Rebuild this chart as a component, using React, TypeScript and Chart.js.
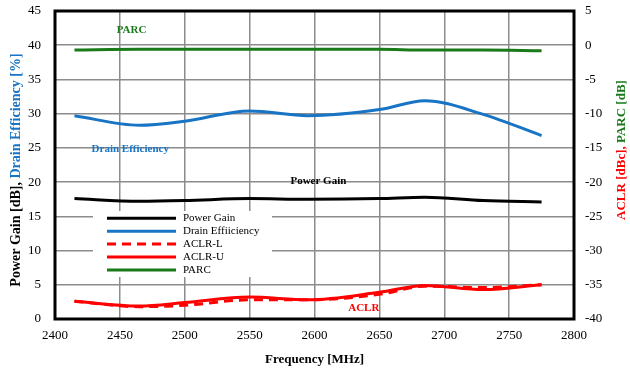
import React, { useEffect, useRef } from "react";
import { Chart, registerables } from "chart.js";

Chart.register(...registerables);

const freqs = [2415, 2465, 2500, 2550, 2595, 2650, 2685, 2730, 2775];
const powerGain = [17.6, 17.2, 17.3, 17.6, 17.5, 17.6, 17.8, 17.3, 17.1];
const drainEff = [29.7, 28.3, 28.9, 30.4, 29.7, 30.6, 31.9, 29.9, 26.8];
const aclrL = [-37.4, -38.2, -38.0, -37.2, -37.2, -36.4, -35.2, -35.4, -35.0];
const aclrU = [-37.4, -38.1, -37.6, -36.8, -37.2, -36.1, -35.1, -35.7, -35.0];
const parc = [-0.7, -0.6, -0.6, -0.6, -0.6, -0.6, -0.7, -0.7, -0.8];

const seriesNames = ["Power Gain", "Drain Effiiciency", "ACLR-L", "ACLR-U", "PARC"];
const seriesColors = ["#000000", "#1874c4", "#ff0000", "#ff0000", "#1a7a1a"];

const annotations = [
  { text: "PARC", x: 2459, y: 42.2, axis: "y", color: "#1a7a1a" },
  { text: "Drain Efficiency", x: 2458, y: 24.8, axis: "y", color: "#1874c4" },
  { text: "Power Gain", x: 2603, y: 20.1, axis: "y", color: "#000000" },
  { text: "ACLR", x: 2638, y: 1.6, axis: "y", color: "#ff0000" },
];

const FONT = "'Liberation Serif', 'Times New Roman', serif";

const pts = (vals: number[]) => freqs.map((f, i) => ({ x: f, y: vals[i] }));

const overlay = {
  id: "overlay",
  afterDatasetsDraw(chart: any) {
    const ctx = chart.ctx;
    const ca = chart.chartArea;
    const xs = chart.scales.x;
    const ys = chart.scales.y;
    ctx.save();
    // frame
    ctx.strokeStyle = "#000";
    ctx.lineWidth = 3;
    ctx.strokeRect(ca.left, ca.top, ca.right - ca.left, ca.bottom - ca.top);

    // annotations
    ctx.font = `bold 11px ${FONT}`;
    ctx.textAlign = "center";
    ctx.textBaseline = "middle";
    annotations.forEach((a) => {
      ctx.fillStyle = a.color;
      ctx.fillText(a.text, xs.getPixelForValue(a.x), ys.getPixelForValue(a.y));
    });

    // legend
    const lx = 93, ly = 211, lw = 179, lh = 66;
    ctx.fillStyle = "#fff";
    ctx.fillRect(lx, ly, lw, lh);
    ctx.font = `11px ${FONT}`;
    ctx.textAlign = "left";
    ctx.textBaseline = "middle";
    seriesNames.forEach((name, i) => {
      const yy = 218.3 + i * 12.9;
      ctx.strokeStyle = seriesColors[i];
      ctx.lineWidth = 3;
      ctx.setLineDash(i === 2 ? [9, 6] : []);
      ctx.beginPath();
      ctx.moveTo(107, yy);
      ctx.lineTo(176, yy);
      ctx.stroke();
      ctx.setLineDash([]);
      ctx.fillStyle = "#000";
      ctx.fillText(name, 183, yy);
    });

    // axis titles
    ctx.textBaseline = "middle";
    const drawRot = (x: number, y: number, parts: { t: string; c: string }[]) => {
      ctx.save();
      ctx.translate(x, y);
      ctx.rotate(-Math.PI / 2);
      const total = parts.reduce((s, p) => s + ctx.measureText(p.t).width, 0);
      let cx = -total / 2;
      ctx.textAlign = "left";
      parts.forEach((p) => {
        ctx.fillStyle = p.c;
        ctx.fillText(p.t, cx, 0);
        cx += ctx.measureText(p.t).width;
      });
      ctx.restore();
    };
    ctx.font = `bold 14px ${FONT}`;
    drawRot(16, 170, [
      { t: "Power Gain [dB], ", c: "#000" },
      { t: "Drain Efficiency [%]", c: "#1874c4" },
    ]);
    ctx.font = `bold 13px ${FONT}`;
    drawRot(622, 150, [
      { t: "ACLR [dBc], ", c: "#ff0000" },
      { t: "PARC [dB]", c: "#1a7a1a" },
    ]);
    ctx.fillStyle = "#000";
    ctx.textAlign = "center";
    ctx.fillText("Frequency [MHz]", (ca.left + ca.right) / 2, 360);
    ctx.restore();
  },
};

export default function App() {
  const ref = useRef<HTMLCanvasElement>(null);
  useEffect(() => {
    if (!ref.current) return;
    const tickFont = { family: FONT, size: 13 };
    const fixPad = (s: any) => { s.paddingTop = 4; s.paddingBottom = 4; };
    const chart = new Chart(ref.current, {
      type: "line",
      data: {
        datasets: [
          { label: seriesNames[0], data: pts(powerGain), borderColor: seriesColors[0], borderWidth: 3, yAxisID: "y" },
          { label: seriesNames[1], data: pts(drainEff), borderColor: seriesColors[1], borderWidth: 3, yAxisID: "y" },
          { label: seriesNames[2], data: pts(aclrL), borderColor: seriesColors[2], borderWidth: 3, borderDash: [9, 6], yAxisID: "y2" },
          { label: seriesNames[3], data: pts(aclrU), borderColor: seriesColors[3], borderWidth: 3, yAxisID: "y2" },
          { label: seriesNames[4], data: pts(parc), borderColor: seriesColors[4], borderWidth: 3, yAxisID: "y2" },
        ].map((d) => ({ ...d, pointRadius: 0, cubicInterpolationMode: "monotone" as const, fill: false })),
      },
      plugins: [overlay],
      options: {
        animation: false,
        responsive: false,
        maintainAspectRatio: false,
        layout: { padding: { top: 11, left: 0, right: 0, bottom: 0 } },
        plugins: { legend: { display: false }, tooltip: { enabled: false } },
        scales: {
          x: {
            type: "linear",
            min: 2400,
            max: 2800,
            ticks: { stepSize: 50, font: tickFont, color: "#000", padding: 9, maxRotation: 0, callback: (v: any) => String(v) },
            grid: { color: "#8c8c8c", lineWidth: 1.5, drawTicks: false },
            border: { display: false },
            afterFit: (s: any) => { s.height = 52; },
          },
          y: {
            position: "left",
            min: 0,
            max: 45,
            ticks: { stepSize: 5, font: tickFont, color: "#000", padding: 14 },
            grid: { color: "#8c8c8c", lineWidth: 1.5, drawTicks: false },
            border: { display: false },
            afterFit: (s: any) => { s.width = 55; fixPad(s); },
          },
          y2: {
            position: "right",
            min: -40,
            max: 5,
            ticks: { stepSize: 5, font: tickFont, color: "#000", padding: 11 },
            grid: { display: false, drawTicks: false },
            border: { display: false },
            afterFit: (s: any) => { s.width = 56; fixPad(s); },
          },
        },
      },
    });
    return () => chart.destroy();
  }, []);
  return (
    <div style={{ position: "fixed", left: 0, top: 0, width: 630, height: 371, background: "#fff" }}>
      <canvas ref={ref} width={630} height={371} style={{ width: 630, height: 371 }} />
    </div>
  );
}
